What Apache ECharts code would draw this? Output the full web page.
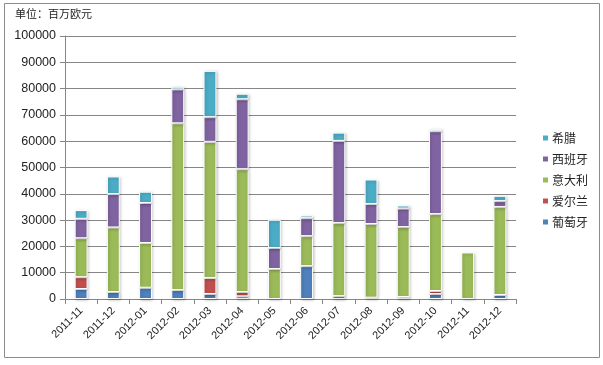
<!DOCTYPE html>
<html><head><meta charset="utf-8">
<script src="https://cdn.jsdelivr.net/npm/echarts@6/dist/echarts.min.js"></script>
<style>html,body{margin:0;padding:0;background:#fff}#c{width:603px;height:365px}</style>
</head><body><div id="c"></div>
<script>
const categories = ['2011-11','2011-12','2012-01','2012-02','2012-03','2012-04','2012-05','2012-06','2012-07','2012-08','2012-09','2012-10','2012-11','2012-12'];
const portugal = [3800, 2650, 4300, 3400, 1900, 1000, 0, 12500, 1100, 500, 760, 1900, 0, 1520];
const ireland  = [4500, 0, 0, 0, 6100, 1650, 0, 0, 0, 0, 0, 1140, 0, 0];
const italy    = [14800, 24550, 17000, 63400, 51760, 46700, 11400, 11400, 27760, 28000, 26580, 29240, 17700, 33420];
const spain    = [7400, 12700, 15200, 12900, 9380, 26600, 7980, 6830, 31260, 7600, 7060, 31520, 0, 2280];
const greece   = [3300, 6700, 4300, 1000, 17600, 2100, 10750, 1000, 3150, 9340, 1150, 880, 0, 2010];
const seriesNames = ['葡萄牙','爱尔兰','意大利','西班牙','希腊'];
const colors = ['#4F81BD','#C0504D','#9BBB59','#8064A2','#4BACC6'];
const unitText = '单位：百万欧元';

const dataList = [portugal, ireland, italy, spain, greece];
const font = 'Liberation Sans, Arial, sans-serif';
const chart = echarts.init(document.getElementById('c'));
chart.setOption({
  animation: false,
  textStyle: {fontFamily: font},
  graphic: [
    {type:'rect', shape:{x:4.5,y:3.5,width:595,height:354}, style:{fill:'none', stroke:'#8c8c8c', lineWidth:1}, silent:true},
    {type:'text', left:15, top:8, style:{text: unitText, font:'11px "Noto Sans CJK SC", sans-serif', fill:'#222'}}
  ],
  legend: {
    orient:'vertical', left:536, top:127, itemWidth:7, itemHeight:7, itemGap:9,
    icon:'rect',
    data: ['希腊','西班牙','意大利','爱尔兰','葡萄牙'],
    textStyle:{fontSize:12, color:'#222', fontFamily:'"Noto Sans CJK SC", sans-serif', padding:[0,0,0,-2]}
  },
  grid: {left:65, right:87, top:36, bottom:66, containLabel:false},
  xAxis: {
    type:'category', data: categories,
    axisLine:{lineStyle:{color:'#868686'}},
    axisTick:{show:true, length:5, lineStyle:{color:'#868686'}},
    axisLabel:{rotate:45, fontSize:11, color:'#222', margin:10, interval:0}
  },
  yAxis: {
    type:'value', min:0, max:100000, interval:10000,
    axisLine:{show:true, lineStyle:{color:'#868686'}},
    axisTick:{show:true, length:5, lineStyle:{color:'#868686'}},
    splitLine:{lineStyle:{color:'#868686'}},
    axisLabel:{fontSize:12.5, color:'#222', margin:9, formatter: v => String(v)}
  },
  series: seriesNames.map((n,i)=>({
    name:n, type:'bar', stack:'s', barWidth:'40%',
    data: dataList[i].map(v => v === 0 ? '-' : v),
    itemStyle:{color:colors[i], borderColor:'#fff', borderWidth:1, shadowColor:'rgba(0,0,0,0.25)', shadowBlur:3, shadowOffsetX:1, shadowOffsetY:1}
  }))
});
</script></body></html>
